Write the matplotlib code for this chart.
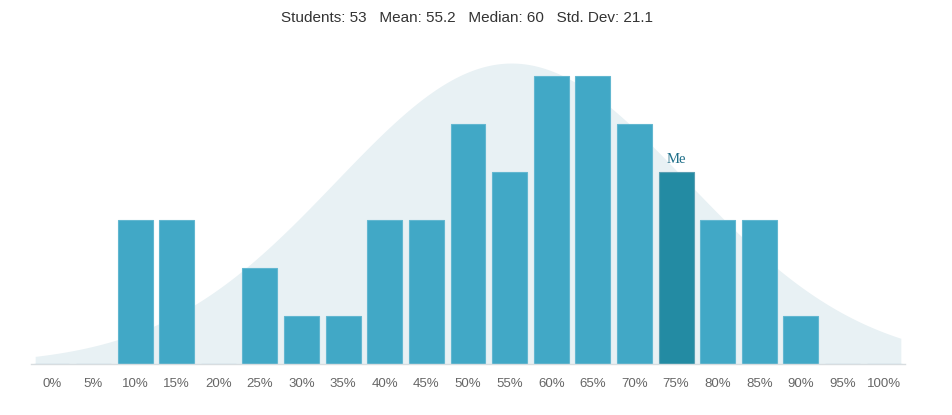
import numpy as np
import matplotlib.pyplot as plt

plt.rcParams['font.family'] = ['Liberation Sans', 'DejaVu Sans']

# data
bins = np.arange(0, 105, 5)          # score bins in %
counts = [0, 0, 3, 3, 0, 2, 1, 1, 3, 3, 5, 4, 6, 6, 5, 4, 3, 3, 1, 0, 0]
my_bin = 75
n_students = 53
mean = 55.2
median = 60
std_dev = 21.1
curve_peak = 6.27                     # height of the bell curve in count units

tick_labels = ['%d%%' % b for b in bins]

fig = plt.figure(figsize=(9.52, 4.15), dpi=100)
ax = fig.add_axes([31/952, (415-364)/415, (905-31)/952, (364-40)/415])

# bell curve behind the bars
xs = np.linspace(-2, 102, 300)
ys = curve_peak*np.exp(-(xs-mean)**2/(2*std_dev**2))
ax.fill_between(xs, 0, ys, color='#e8f1f4', lw=0, zorder=1)

colors = ['#238ba3' if b == my_bin else '#41a8c6' for b in bins]
edges = ['#5a9fb3' if b == my_bin else '#62b7d0' for b in bins]
ax.bar(bins, counts, width=4.2, color=colors, edgecolor=edges, linewidth=0.8, zorder=2)

# "Me" marker above own bar
ax.annotate('Me', (my_bin, counts[list(bins).index(my_bin)]),
            textcoords='offset points', xytext=(0, 4), ha='center', va='bottom',
            family='Liberation Serif', fontsize=10.5, color='#1f6f89')

ax.set_xlim(-2.5, 102.5)
ax.set_ylim(0, (364-40)/48)
ax.set_xticks(bins)
ax.set_xticklabels(tick_labels)
ax.tick_params(axis='x', length=0, pad=10, labelsize=9.5, labelcolor='#666666')
ax.set_yticks([])
for s in ['top', 'right', 'left']:
    ax.spines[s].set_visible(False)
ax.spines['bottom'].set_color('#d8dde0')
ax.spines['bottom'].set_linewidth(1)

fig.text(467/952, 1-18/415, 'Students: %d   Mean: %.1f   Median: %d   Std. Dev: %.1f'
         % (n_students, mean, median, std_dev),
         ha='center', va='center', fontsize=11, color='#333333')

plt.savefig('out.png', dpi=100)
